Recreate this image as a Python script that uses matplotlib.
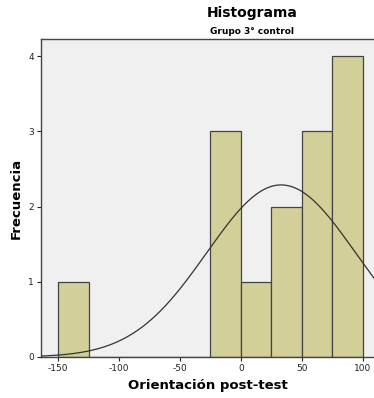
import numpy as np
import matplotlib
matplotlib.use("Agg")
import matplotlib.pyplot as plt

# Histogram bins (width 25) and frequencies
bin_edges = [-150, -125, -100, -75, -50, -25, 0, 25, 50, 75, 100]
frequencies = [1, 0, 0, 0, 0, 3, 1, 2, 3, 4]

# Normal curve parameters of the sample
n_cases = 14
mean_val = 33.0
sd_val = 61.0

x_ticks = [-150, -100, -50, 0, 50, 100]
y_ticks = [0, 1, 2, 3, 4]

plt.rcParams['font.family'] = ['DejaVu Sans']
plt.rcParams['axes.unicode_minus'] = False

fig = plt.figure(figsize=(3.74, 3.98), dpi=100)
ax = fig.add_axes([41 / 374, 41 / 398, 334 / 374, 318 / 398])
ax.set_facecolor('#F0F0F0')

lefts = np.array(bin_edges[:-1])
widths = np.diff(bin_edges)
ax.bar(lefts, frequencies, width=widths, align='edge',
       color='#D3CF98', edgecolor='#444444', linewidth=0.9, zorder=2)

bw = widths[0]
xs = np.linspace(-170, 130, 400)
ys = n_cases * bw * np.exp(-0.5 * ((xs - mean_val) / sd_val) ** 2) / (sd_val * np.sqrt(2 * np.pi))
ax.plot(xs, ys, color='#333333', linewidth=0.9, zorder=3)

ax.set_xlim(-164, 110)
ax.set_ylim(0, 4.23)
ax.set_xticks(x_ticks)
ax.set_yticks(y_ticks)
ax.tick_params(axis='both', direction='out', length=3, width=0.8,
               labelsize=6.5, colors='#222222', pad=2)
for s in ['left', 'bottom', 'top']:
    ax.spines[s].set_color('#444444')
    ax.spines[s].set_linewidth(1.0)
ax.spines['right'].set_visible(False)

ax.set_xlabel('Orientación post-test', fontsize=9.5, fontweight='bold', labelpad=4)
ax.set_ylabel('Frecuencia', fontsize=9.5, fontweight='bold', labelpad=4)

fig.text(252 / 374, 1 - 13 / 398, 'Histograma', ha='center', va='center',
         fontsize=10, fontweight='bold')
fig.text(252 / 374, 1 - 31 / 398, 'Grupo 3° control', ha='center', va='center',
         fontsize=6.5, fontweight='bold')

fig.savefig('out.png', dpi=100)
